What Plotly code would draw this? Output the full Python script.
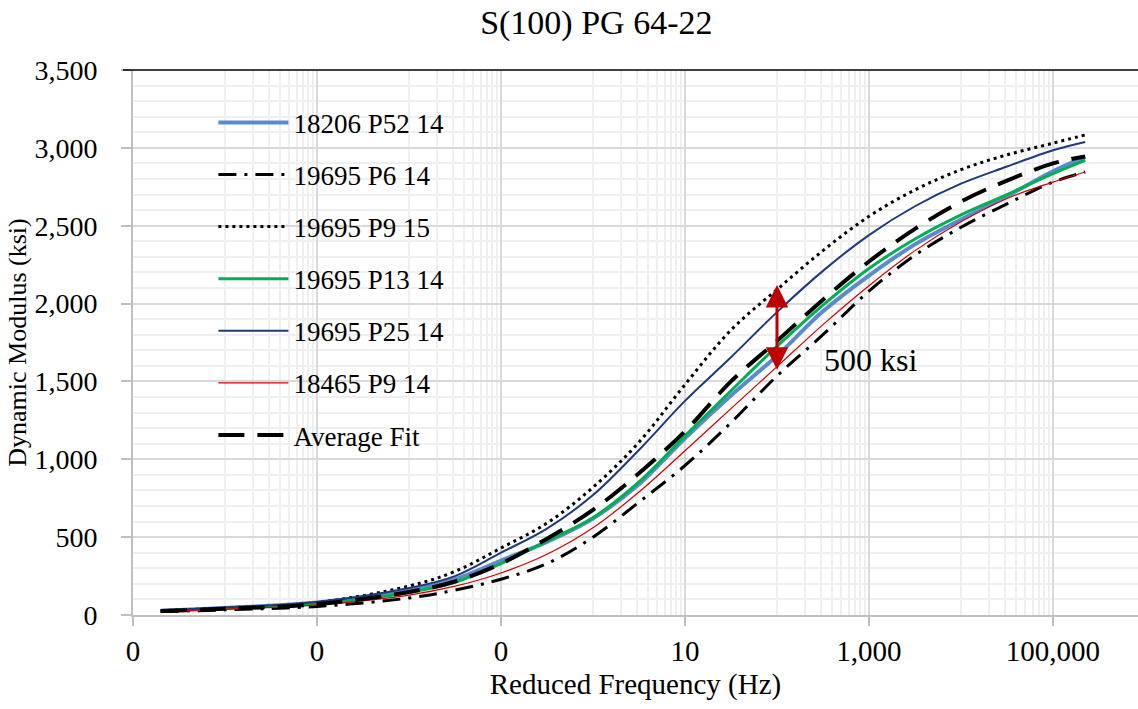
import plotly.graph_objects as go

# reduced frequency (Hz) and dynamic modulus (ksi)
freq = [2e-5, 1e-4, 1e-3, 1e-2, 0.0316, 0.1, 0.316, 1, 3.16, 10, 31.6,
        100, 316, 1000, 3160, 1e4, 31600, 1e5, 2.24e5]

p52_14 = [28, 45, 80, 160, 230, 350, 470, 620, 840, 1135, 1410, 1665, 1950,
          2180, 2380, 2540, 2690, 2850, 2940]
p6_14 = [22, 33, 55, 109, 160, 230, 330, 500, 725, 960, 1235, 1535, 1800,
         2080, 2310, 2490, 2640, 2780, 2845]
p9_15 = [28, 45, 80, 186, 280, 430, 590, 820, 1110, 1480, 1830, 2090, 2340,
         2560, 2730, 2860, 2955, 3030, 3083]
p13_14 = [27, 42, 72, 145, 210, 330, 475, 625, 855, 1150, 1440, 1725, 1990,
          2225, 2415, 2570, 2700, 2835, 2920]
p25_14 = [30, 48, 83, 173, 250, 400, 555, 770, 1060, 1375, 1655, 1945, 2210,
          2440, 2625, 2770, 2880, 2985, 3038]
p9_14 = [25, 38, 65, 128, 185, 270, 390, 560, 790, 1055, 1325, 1595, 1865,
         2115, 2340, 2525, 2675, 2780, 2845]
avg_fit = [25, 40, 70, 148, 215, 330, 490, 675, 910, 1180, 1500, 1760, 2025,
           2270, 2480, 2655, 2790, 2900, 2945]

x_ticks = [1e-5, 1e-3, 1e-1, 10, 1000, 1e5]
x_labels = ["0", "0", "0", "10", "1,000", "100,000"]
x_minor = [m * 10 ** k for k in (-4, -2, 0, 2, 4) for m in range(1, 10)]

arrow_top, arrow_bottom = 2120, 1565

series = [
    ("18206 P52 14", p52_14, dict(color="#5b8bcf", width=4)),
    ("19695 P6 14", p6_14, dict(color="black", width=3, dash="18px,8px,3px,8px")),
    ("19695 P9 15", p9_15, dict(color="black", width=3, dash="3px,4px")),
    ("19695 P13 14", p13_14, dict(color="#00b050", width=3)),
    ("19695 P25 14", p25_14, dict(color="#1f3a7a", width=2)),
    ("18465 P9 14", p9_14, dict(color="#d00000", width=1.2)),
    ("Average Fit", avg_fit, dict(color="black", width=4, dash="26px,13px")),
]

font = "Liberation Serif, Times New Roman, serif"

fig = go.Figure()
for name, vals, line in series:
    line["shape"] = "spline"
    line["smoothing"] = 1.0
    fig.add_trace(go.Scatter(x=freq, y=vals, mode="lines", name=name,
                             line=line, legendgroup=name))

fig.update_layout(
    width=1138, height=709,
    margin=dict(l=133, r=0, t=70, b=94),
    paper_bgcolor="white", plot_bgcolor="white",
    font=dict(family=font, size=24, color="black"),
    title=dict(text="S(100) PG 64-22", x=0.524, xref="container",
               y=1 - 22 / 709, yanchor="middle", xanchor="center",
               font=dict(size=34)),
    showlegend=True,
    legend=dict(x=0.08, y=0.948, xanchor="left", yanchor="top",
                bgcolor="rgba(0,0,0,0)", itemwidth=70, tracegroupgap=14,
                font=dict(size=27)),
)

fig.update_xaxes(
    type="log", range=[-5, 5.924],
    tickmode="array", tickvals=x_ticks, ticktext=x_labels,
    tickfont=dict(size=29),
    showgrid=True, gridcolor="#d9d9d9", gridwidth=1.5,
    minor=dict(tickmode="array", tickvals=x_minor, showgrid=True,
               gridcolor="#efefef", gridwidth=1.5, ticks=""),
    ticks="outside", ticklen=9, tickcolor="#bfbfbf", tickwidth=1.5,
    showline=True, linecolor="#bfbfbf", linewidth=2,
    ticklabelstandoff=0,
    title=dict(text="Reduced Frequency (Hz)", standoff=8, font=dict(size=29)),
    zeroline=False,
)
fig.update_yaxes(
    range=[0, 3500], dtick=500, tickformat=",d",
    tickfont=dict(size=28),
    showgrid=True, gridcolor="#d9d9d9", gridwidth=1.5,
    minor=dict(dtick=100, showgrid=True, gridcolor="#efefef", gridwidth=1.5,
               ticks=""),
    ticks="outside", ticklen=10, tickcolor="#bfbfbf", tickwidth=1.5,
    showline=True, linecolor="#bfbfbf", linewidth=2,
    ticklabelstandoff=18,
    title=dict(text="Dynamic Modulus (ksi)", standoff=0, font=dict(size=26)),
    zeroline=False,
)

# black border along the top of the plot area
fig.add_shape(type="line", xref="paper", yref="paper", x0=-0.01, x1=1,
              y0=1, y1=1, line=dict(color="black", width=1.5), layer="above")

# double-headed 500 ksi arrow
fig.add_annotation(x=2, y=arrow_top, ax=2, ay=arrow_bottom, xref="x", yref="y",
                   axref="x", ayref="y", text="", showarrow=True,
                   arrowhead=2, arrowside="end+start", arrowsize=1.5,
                   arrowwidth=3, arrowcolor="#c00000")
fig.add_annotation(x=3.02, y=1638, xref="x", yref="y", text="500 ksi",
                   showarrow=False, font=dict(size=32))

fig.write_html("out.html", config={"displayModeBar": False},
               post_script="document.body.style.margin='0';")
